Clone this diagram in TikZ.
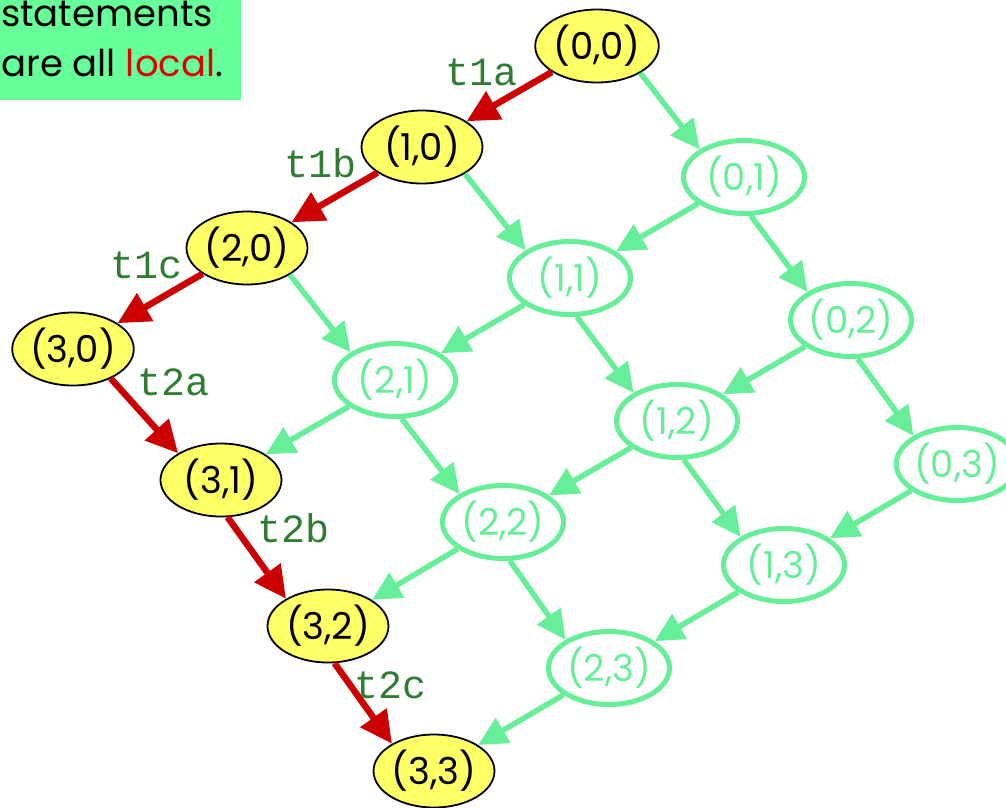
\documentclass[tikz,border=0pt]{standalone}
\usepackage{fontspec}
\setmainfont{Poppins}
\setmonofont{Liberation Mono}
\usetikzlibrary{arrows.meta,shapes.geometric}
\definecolor{lgreen}{HTML}{66EE99}
\definecolor{boxgreen}{HTML}{66FF99}
\definecolor{yel}{HTML}{FFFF66}
\definecolor{arred}{HTML}{CC0000}
\definecolor{lblgreen}{HTML}{2E7D32}
\definecolor{locred}{HTML}{E00000}
\begin{document}
\begin{tikzpicture}[x=1pt,y=-1pt,
  st/.style={ellipse,minimum width=121pt,minimum height=73pt,inner sep=0pt,font=\fontsize{37}{37}\selectfont},
  done/.style={st,draw=black,line width=1.8pt,fill=yel,text=black},
  todo/.style={st,draw=lgreen,line width=5pt,fill=white,text=lgreen},
  redarr/.style={draw=arred,line width=6.5pt,-{Triangle[length=32pt,width=31pt]}},
  grnarr/.style={draw=lgreen,line width=5.5pt,-{Triangle[length=29pt,width=28pt]}},
  lbl/.style={text=lblgreen,inner sep=0pt,font=\ttfamily\fontsize{40}{40}\selectfont},
  boxtxt/.style={anchor=base west,inner sep=0pt,font=\fontsize{37}{37}\selectfont}]
\useasboundingbox (0,0) rectangle (1006,807);
\clip (0,0) rectangle (1006,807);
% info box
\fill[boxgreen] (0,0) rectangle (241,100);
\node[boxtxt] (b1) at (1,26) {statements};
\node[boxtxt] (b2) at (1,76) {are all {\color{locred}local}.};
% nodes
\node[done] (n00) at (597,46) {(0,0)};
\node[done] (n10) at (422,147) {(1,0)};
\node[done] (n20) at (247,248) {(2,0)};
\node[done] (n30) at (73,349) {(3,0)};
\node[todo] (n01) at (744,177) {(0,1)};
\node[todo] (n11) at (570,278) {(1,1)};
\node[todo] (n21) at (395,380) {(2,1)};
\node[done] (n31) at (221,480) {(3,1)};
\node[todo] (n02) at (851,320) {(0,2)};
\node[todo] (n12) at (677,421) {(1,2)};
\node[todo] (n22) at (503,522) {(2,2)};
\node[done] (n32) at (328,626) {(3,2)};
\node[todo] (n03) at (957,464) {(0,3)};
\node[todo] (n13) at (784,565) {(1,3)};
\node[todo] (n23) at (609,668) {(2,3)};
\node[done] (n33) at (434,771) {(3,3)};
% green edges (down-left: centre to centre)
\draw[grnarr] (n01) -- (n11);
\draw[grnarr] (n11) -- (n21);
\draw[grnarr] (n21) -- (n31);
\draw[grnarr] (n02) -- (n12);
\draw[grnarr] (n12) -- (n22);
\draw[grnarr] (n22) -- (n32);
\draw[grnarr] (n03) -- (n13);
\draw[grnarr] (n13) -- (n23);
\draw[grnarr] (n23) -- (n33);
% green edges (down-right)
\draw[grnarr] (n00.-32) -- (n01.148);
\draw[grnarr] (n10.-32) -- (n11.148);
\draw[grnarr] (n20.-32) -- (n21.148);
\draw[grnarr] (n01.-80) -- (n02.147);
\draw[grnarr] (n11.-80) -- (n12.147);
\draw[grnarr] (n21.-80) -- (n22.147);
\draw[grnarr] (n02.-80) -- (n03.147);
\draw[grnarr] (n12.-80) -- (n13.147);
\draw[grnarr] (n22.-80) -- (n23.147);
% red edges
\draw[redarr] (n00) -- (n10);
\draw[redarr] (n10) -- (n20);
\draw[redarr] (n20) -- (n30);
\draw[redarr] (n30.-38) -- (n31.148);
\draw[redarr] (n31.-80) -- (n32.147);
\draw[redarr] (n32.-80) -- (n33.147);
% labels
\node[lbl] (l1) at (481,72) {t1a};
\node[lbl] (l2) at (321,163) {t1b};
\node[lbl] (l3) at (147,265) {t1c};
\node[lbl] (l4) at (174,382) {t2a};
\node[lbl] (l5) at (294,528) {t2b};
\node[lbl] (l6) at (391,685) {t2c};
\end{tikzpicture}
\end{document}
